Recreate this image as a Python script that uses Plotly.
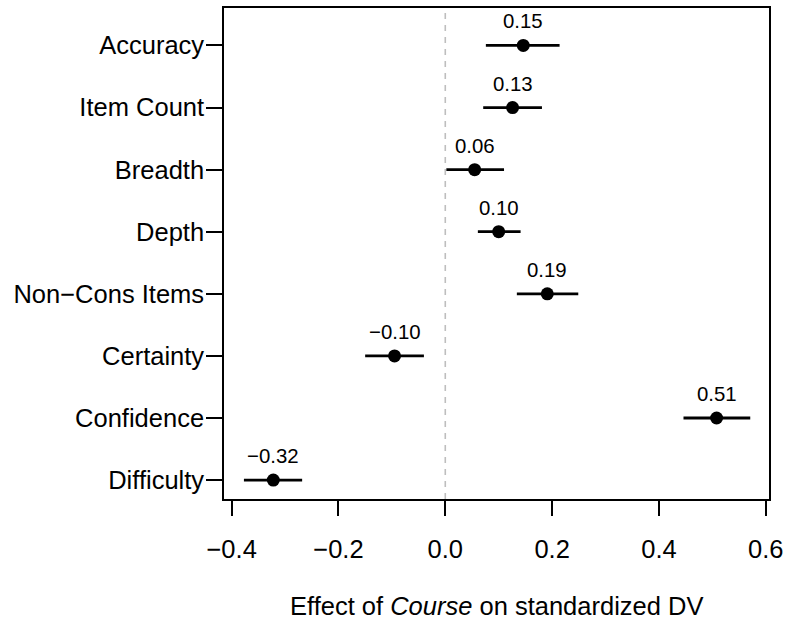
import plotly.graph_objects as go

categories = ["Accuracy", "Item Count", "Breadth", "Depth", "Non\u2212Cons Items",
              "Certainty", "Confidence", "Difficulty"]
estimates = [0.146, 0.126, 0.055, 0.100, 0.191, -0.095, 0.508, -0.322]
ci_low = [0.076, 0.071, 0.002, 0.061, 0.134, -0.150, 0.446, -0.377]
ci_high = [0.214, 0.181, 0.110, 0.141, 0.249, -0.040, 0.571, -0.268]
point_labels = ["0.15", "0.13", "0.06", "0.10", "0.19", "\u22120.10", "0.51", "\u22120.32"]
x_tick_vals = [-0.4, -0.2, 0.0, 0.2, 0.4, 0.6]
x_tick_text = ["\u22120.4", "\u22120.2", "0.0", "0.2", "0.4", "0.6"]

n = len(categories)
ypos = [n - i for i in range(n)]

FONT = "Liberation Sans, Arial, Helvetica, sans-serif"

fig = go.Figure()

fig.add_shape(type="line", x0=0, x1=0, xref="x", y0=0, y1=1, yref="paper",
              line=dict(color="#bebebe", width=1.6, dash="6px,6px"), layer="below")

fig.add_trace(go.Scatter(
    x=estimates, y=ypos, mode="markers",
    marker=dict(color="black", size=13),
    error_x=dict(type="data", symmetric=False,
                 array=[h - e for h, e in zip(ci_high, estimates)],
                 arrayminus=[e - l for e, l in zip(estimates, ci_low)],
                 color="black", thickness=2.8, width=0),
    hoverinfo="skip", showlegend=False,
))

for e, y, t in zip(estimates, ypos, point_labels):
    fig.add_annotation(x=e, y=y, text=t, showarrow=False, yshift=24,
                       xanchor="center", yanchor="middle",
                       font=dict(family=FONT, size=20.4, color="black"))

fig.add_annotation(x=0.5, xref="paper", y=-0.217, yref="paper",
                   text="Effect of <i>Course</i> on standardized DV",
                   showarrow=False, xanchor="center", yanchor="middle",
                   font=dict(family=FONT, size=25.5, color="black"))

fig.update_layout(
    width=789, height=621,
    margin=dict(l=224, r=16, t=6, b=122),
    paper_bgcolor="white", plot_bgcolor="white",
    font=dict(family=FONT, size=25.5, color="black"),
    xaxis=dict(range=[-0.4143, 0.6061], tickvals=x_tick_vals, ticktext=x_tick_text,
               ticks="outside", ticklen=15, tickwidth=1.6, tickcolor="black",
               showline=True, linecolor="black", linewidth=1.6, mirror=True,
               showgrid=False, zeroline=False, ticklabelstandoff=12,
               tickfont=dict(family=FONT, size=25.5, color="black")),
    yaxis=dict(range=[0.6955, 8.603], tickvals=ypos, ticktext=categories,
               ticks="outside", ticklen=16, tickwidth=1.6, tickcolor="black",
               showline=True, linecolor="black", linewidth=1.6, mirror=True,
               showgrid=False, zeroline=False, ticklabelstandoff=-3,
               tickfont=dict(family=FONT, size=25.5, color="black")),
)

fig.write_html("out.html", config={"displayModeBar": False},
               post_script="document.body.style.margin='0';document.body.style.overflow='hidden';")
